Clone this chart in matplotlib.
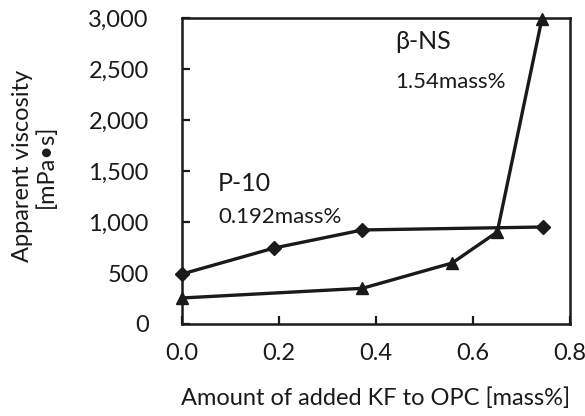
import matplotlib
matplotlib.use("Agg")
import matplotlib.pyplot as plt

plt.rcParams['font.family'] = ['Lato', 'DejaVu Sans']

p10_x = [0.0, 0.19, 0.372, 0.745]
p10_y = [490, 745, 922, 951]
bns_x = [0.0, 0.372, 0.557, 0.65, 0.742]
bns_y = [255, 350, 598, 902, 2990]
xticks = [0.0, 0.2, 0.4, 0.6, 0.8]
yticks = [0, 500, 1000, 1500, 2000, 2500, 3000]

fig = plt.figure(figsize=(5.85, 4.16), dpi=100)
ax = fig.add_axes([182/585, 1-324/416, (570-182)/585, (324-18)/416])

ax.plot(p10_x, p10_y, color='#1a1a1a', lw=2.4, marker='D', ms=7.5, clip_on=False, zorder=3)
ax.plot(bns_x, bns_y, color='#1a1a1a', lw=2.4, marker='^', ms=9, clip_on=False, zorder=3)

ax.set_xlim(0, 0.8)
ax.set_ylim(0, 3000)
ax.set_xticks(xticks)
ax.set_xticklabels([f"{v:.1f}" for v in xticks])
ax.set_yticks(yticks)
ax.set_yticklabels([f"{v:,}" for v in yticks])
ax.tick_params(direction='in', length=6, width=1.6, labelsize=17, colors='#1a1a1a')
ax.tick_params(axis='y', pad=24)
ax.tick_params(axis='x', pad=14)
for s in ax.spines.values():
    s.set_linewidth(1.8)
    s.set_color('#1a1a1a')

ax.set_xlabel("Amount of added KF to OPC [mass%]", fontsize=17, color='#1a1a1a')
ax.xaxis.set_label_coords(0.5, -0.242)
ax.xaxis.label.set_va('center')
ax.set_ylabel("Apparent viscosity\n[mPa•s]", fontsize=17, color='#1a1a1a', linespacing=1.1)
ax.yaxis.set_label_coords(-0.38, 0.516)
ax.yaxis.label.set_va('center')

ax.text(0.074, 1373, "P-10", fontsize=18, color='#1a1a1a', va='center')
ax.text(0.074, 1049, "0.192mass%", fontsize=16, color='#1a1a1a', va='center')
ax.text(0.439, 2765, "β-NS", fontsize=18, color='#1a1a1a', va='center')
ax.text(0.439, 2373, "1.54mass%", fontsize=16, color='#1a1a1a', va='center')

fig.savefig("out.png", dpi=100)
